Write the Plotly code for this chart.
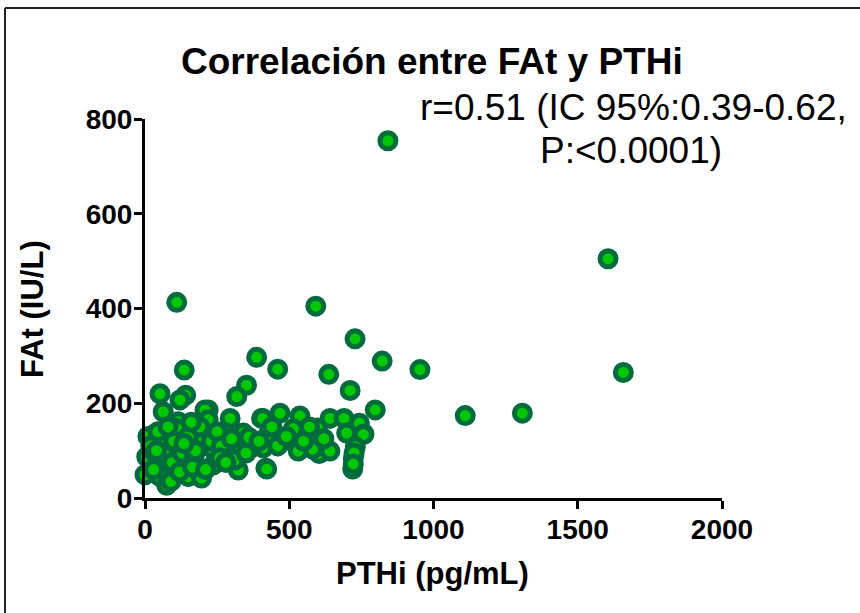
import plotly.graph_objects as go

# ---- data ----
pthi = [842, 1605, 1658, 1308, 1110, 953, 822, 798, 728, 711, 637, 592, 460, 387, 352, 318,
        110, 136, 141, 52, 121, 63, 219, 208, 219, 295, 404, 468, 537, 641, 690, 743, 759,
        699, 757, 729, 722, 720, 604, 641, 581, 597, 514, 429, 475, 375, 410, 531, 419, 408,
        98, 115, 104, 29, 63, 6, 0, 58, 52, 75, 139, 150, 87, 115, 110, 185, 237, 237, 196,
        277, 341, 289, 329, 323, 373, 427, 422, 121,
        10, 20, 35, 45, 70, 95, 130, 160, 170, 200, 230, 250, 265, 300, 310, 350, 360, 395,
        440, 460, 490, 550, 570, 620, 725, 722, 30, 90, 120, 165, 175, 210, 260, 280, 100,
        150, 40, 80, 135, 190, 160]
fat = [754, 505, 265, 179, 174, 271, 289, 186, 336, 227, 261, 405, 272, 297, 238, 214,
       413, 270, 217, 220, 207, 182, 186, 186, 165, 168, 168, 179, 173, 168, 168, 158, 135,
       137, 134, 108, 84, 61, 94, 99, 103, 148, 146, 131, 119, 108, 106, 99, 63, 168,
       147, 161, 147, 133, 126, 87, 49, 70, 45, 27, 61, 45, 101, 84, 80, 105, 103, 70, 42,
       138, 137, 94, 110, 59, 108, 133, 61, 144,
       130, 110, 95, 140, 90, 75, 95, 120, 85, 130, 120, 140, 110, 125, 80, 95, 128, 120,
       150, 110, 130, 120, 150, 125, 95, 72, 60, 35, 55, 65, 100, 60, 85, 75, 120,
       130, 100, 150, 115, 150, 160]

x_ticks = [0, 500, 1000, 1500, 2000]
y_ticks = [0, 200, 400, 600, 800]

title_text = "Correlación entre FAt y PTHi"
x_title = "PTHi (pg/mL)"
y_title = "FAt (IU/L)"
stat_line1 = "r=0.51 (IC 95%:0.39-0.62,"
stat_line2 = "P:<0.0001)"

# ---- layout geometry ----
W, H = 860, 613
L, R, T, B = 145, 138, 119, 115
PW, PH = W - L - R, H - T - B


def px(xp):
    return (xp - L) / PW


def py(yp):
    return (H - B - yp) / PH


FONT = "Liberation Sans, Arial, Helvetica, sans-serif"

fig = go.Figure()
fig.add_trace(go.Scatter(
    x=pthi, y=fat, mode="markers", cliponaxis=False,
    marker=dict(size=16, color="#00C800",
                line=dict(color="#006B3C", width=5)),
    showlegend=False, hoverinfo="x+y",
))

axis_common = dict(
    showline=True, linecolor="black", linewidth=3,
    ticks="outside", ticklen=8, tickwidth=3, tickcolor="black",
    showgrid=False, zeroline=False, ticklabelstandoff=-4,
    tickfont=dict(family=FONT, size=28, color="black", weight="bold"),
)

fig.update_layout(
    width=W, height=H,
    margin=dict(l=L, r=R, t=T, b=B, pad=0),
    paper_bgcolor="white", plot_bgcolor="white",
    xaxis=dict(range=[0, 2000], tickvals=x_ticks, **axis_common),
    yaxis=dict(range=[0, 800], tickvals=y_ticks, **axis_common),
    annotations=[
        dict(text=title_text, x=px(432), y=py(61), xref="paper", yref="paper",
             showarrow=False, xanchor="center", yanchor="middle",
             font=dict(family=FONT, size=37, color="black", weight="bold")),
        dict(text=stat_line1, x=px(633), y=py(107), xref="paper", yref="paper",
             showarrow=False, xanchor="center", yanchor="middle",
             font=dict(family=FONT, size=37, color="black")),
        dict(text=stat_line2, x=px(631), y=py(150), xref="paper", yref="paper",
             showarrow=False, xanchor="center", yanchor="middle",
             font=dict(family=FONT, size=37, color="black")),
        dict(text=x_title, x=px(432), y=py(573), xref="paper", yref="paper",
             showarrow=False, xanchor="center", yanchor="middle",
             font=dict(family=FONT, size=31, color="black", weight="bold")),
        dict(text=y_title, x=px(32), y=py(309), xref="paper", yref="paper",
             showarrow=False, xanchor="center", yanchor="middle", textangle=-90,
             font=dict(family=FONT, size=31, color="black", weight="bold")),
    ],
    shapes=[
        dict(type="line", xref="paper", yref="paper", x0=px(5), x1=px(860),
             y0=py(8), y1=py(8), line=dict(color="#222222", width=2)),
        dict(type="line", xref="paper", yref="paper", x0=px(5), x1=px(5),
             y0=py(8), y1=py(613), line=dict(color="#222222", width=2)),
    ],
)

fig.write_html("out.html",
               config={"displayModeBar": False},
               post_script="document.body.style.margin='0';document.body.style.overflow='hidden';")
